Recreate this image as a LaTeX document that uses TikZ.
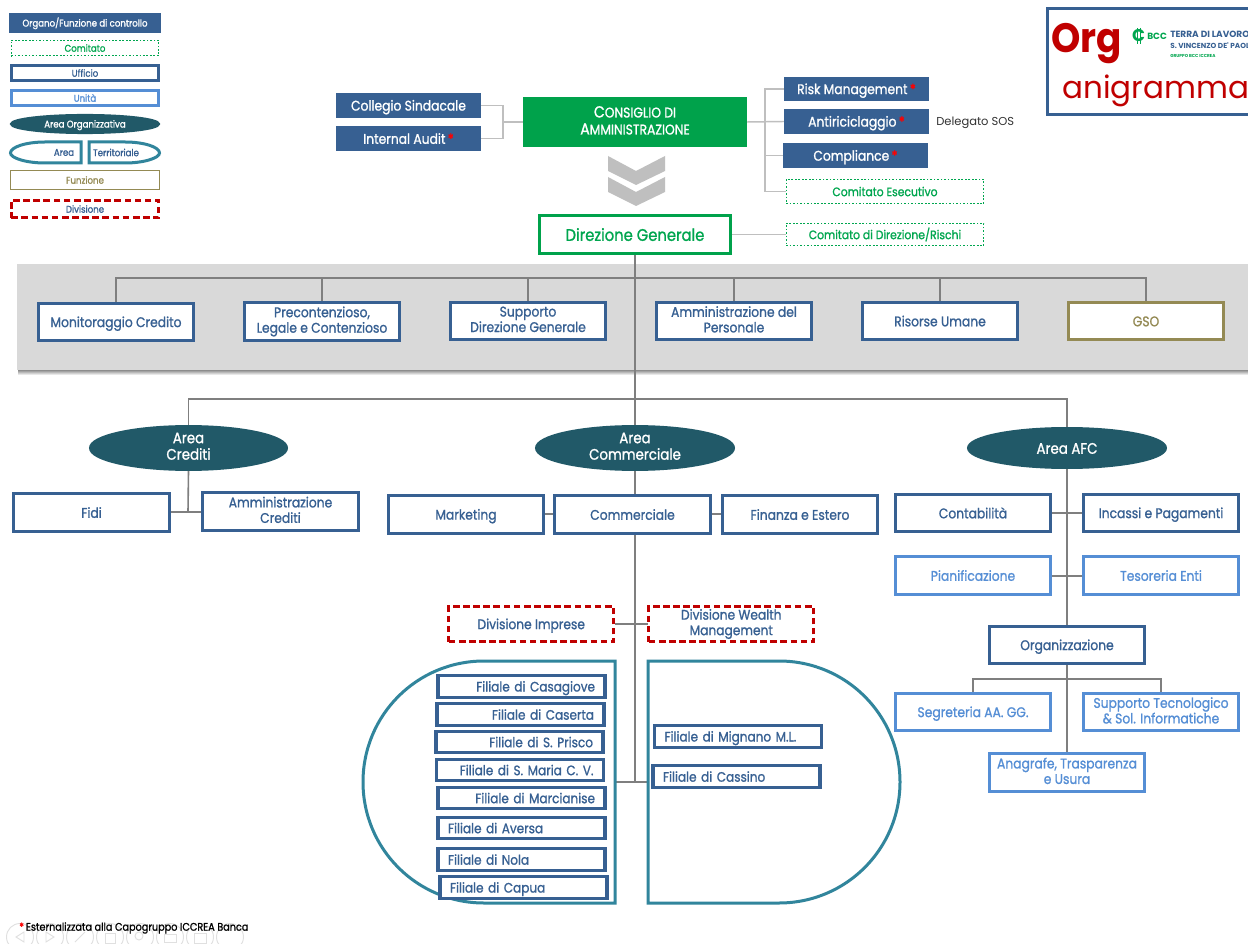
\documentclass[tikz,border=0pt]{standalone}
\usepackage{fontspec}
\usetikzlibrary{shapes.geometric}
\setmainfont{Poppins}[FakeBold=1.1,FakeStretch=0.88]
\newfontfamily\plainfont{Poppins}
\newfontfamily\orgfont{Poppins}[FakeStretch=0.91]
\definecolor{ublue}{HTML}{376092}
\definecolor{lblue}{HTML}{558ED5}
\definecolor{cgreen}{HTML}{00A64F}
\definecolor{bgreen}{HTML}{00A24B}
\definecolor{olive}{HTML}{948A54}
\definecolor{darkred}{HTML}{C00000}
\definecolor{tealfill}{HTML}{215968}
\definecolor{tealline}{HTML}{31859C}
\definecolor{panelgray}{HTML}{D9D9D9}
\definecolor{darkln}{HTML}{7F7F7F}
\definecolor{lightln}{HTML}{BFBFBF}
\pgfdeclarelayer{back}
\pgfdeclarelayer{conn}
\pgfsetlayers{back,conn,main}
\newcommand{\fnt}[2]{\fontsize{\the\dimexpr #1pt*3/4\relax}{\the\dimexpr #2pt*3/4\relax}\selectfont}
\newcommand{\redast}{{\color{red}\,*}}
\newcommand{\capL}[1]{{\fnt{16}{17}#1}}
\newcommand{\bx}[7]{%
  \pgfmathsetmacro{\bxw}{(#5-#3-2.5)*0.75}%
  \pgfmathsetmacro{\bxh}{(#6-#4-2.5)*0.75}%
  \pgfmathsetmacro{\bxx}{(#3+#5)/2}%
  \pgfmathsetmacro{\bxy}{(#4+#6)/2}%
  \node[inner sep=0pt,#1,minimum width=\bxw pt,minimum height=\bxh pt] (#2) at (\bxx,\bxy) {#7};}
\tikzset{
  evenstrut/.style={execute at begin node={\rule{0pt}{1.0em}},execute at end node={\rule[-0.24em]{0pt}{0.24em}}},
  twol/.style={execute at begin node={\rule{0pt}{1.28em}}},
  basebox/.style={rectangle,align=center,font=\fnt{14}{15.5},fill=white,evenstrut},
  ufficio/.style={basebox,draw=ublue,line width=2.4pt,text=ublue},
  unita/.style={basebox,draw=lblue,line width=2.4pt,text=lblue},
  funzione/.style={basebox,draw=olive,line width=2.4pt,text=olive},
  filled/.style={basebox,fill=ublue,draw=ublue,line width=1.875pt,text=white},
  consiglio/.style={basebox,fill=bgreen,draw=bgreen,line width=1.875pt,text=white,font=\fnt{14}{17}},
  direzione/.style={basebox,draw=bgreen,line width=2.4pt,text=cgreen,font=\fnt{16.8}{18}},
  comitato/.style={basebox,draw=cgreen,line width=1.05pt,dash pattern=on 1.3pt off 1.3pt,text=cgreen,font=\fnt{12.3}{13}},
  divisione/.style={basebox,draw=darkred,line width=2.4pt,dash pattern=on 5pt off 2.6pt,text=ublue,font=\fnt{13.9}{15.5}},
  areaell/.style={ellipse,fill=tealfill,draw=tealfill,line width=1.875pt,text=white,align=center,font=\fnt{15.2}{16.5},evenstrut},
  filr/.style={ufficio,align=right,text width=110.25pt,inner xsep=7.5pt,font=\fnt{13.7}{15}},
  fils/.style={ufficio,align=left,text width=110.25pt,inner xsep=7.5pt,font=\fnt{13.7}{15}},
  dk/.style={draw=darkln,line width=1.2pt},
  lt/.style={draw=lightln,line width=1.1pt},
  terr/.style={draw=tealline,line width=2.25pt,fill=white},
  lgd/.style={font=\fnt{9.8}{11}},
  chev/.style={fill=lightln},
  tbar/.style={draw=black!12,line width=0.7pt},
  logotxt/.style={inner sep=0pt,anchor=west},
}
\begin{document}
\begin{tikzpicture}[x=0.75pt,y=-0.75pt]
\useasboundingbox (0,0) rectangle (1248,944);
\begin{pgfonlayer}{back}
\fill[white] (0,0) rectangle (1248,944);
\shade[top color=black!45,bottom color=white] (18,370) rectangle (1248,375);
\fill[panelgray] (17,264) rectangle (1248,370);
\end{pgfonlayer}

\coordinate (rowbar) at (635,278);
\coordinate (areabar) at (635,399);
\coordinate (trunkend) at (635,782);
\coordinate (tL) at (615,782);
\coordinate (tR) at (648,782);
\coordinate (divL) at (615,624);
\coordinate (divR) at (648,624);
\coordinate (colbar) at (503,122);
\coordinate (consbar) at (765,122);
\coordinate (orgbar) at (1067,679);
\coordinate (crbar) at (188,512);
\coordinate (cmbar) at (635,514);
\coordinate (afbar) at (1067,513);
\coordinate (pibar) at (1067,576);

% top level
\bx{consiglio,twol}{cda}{523}{97}{747}{147}{\capL{C}ONSIGLIO DI\\\capL{A}MMINISTRAZIONE}
\bx{filled}{coll}{336}{93}{481}{118}{Collegio Sindacale}
\bx{filled}{audit}{336}{126}{481}{151}{Internal Audit\redast}
\bx{filled}{risk}{784}{77}{929}{101}{Risk Management\redast}
\bx{filled}{anti}{784}{109}{929}{134}{Antiriciclaggio\redast}
\bx{filled}{comp}{783}{143}{928}{168}{Compliance\redast}
\bx{comitato}{cesec}{785}{178}{985}{205}{Comitato Esecutivo}
\bx{direzione}{dg}{538}{214}{732}{255}{Direzione Generale}
\bx{comitato}{cdir}{785}{222}{985}{247}{Comitato di Direzione/Rischi}
\node[inner sep=0pt,anchor=west,font=\plainfont\fnt{11.5}{13},text=black!80] (sos) at (936,123) {Delegato SOS};

% chevrons
\fill[chev] (608,156) -- (636,171) -- (665,156) -- (665,171) -- (636,185) -- (608,171) -- cycle;
\fill[chev] (608,177) -- (636,192) -- (665,177) -- (665,192) -- (636,206) -- (608,192) -- cycle;

% staff row
\bx{ufficio}{mon}{37}{302}{195}{342}{Monitoraggio Credito}
\bx{ufficio,twol}{prec}{243}{301}{401}{342}{Precontenzioso,\\Legale e Contenzioso}
\bx{ufficio,twol}{supp}{449}{301}{607}{341}{Supporto\\Direzione Generale}
\bx{ufficio,twol}{ammp}{655}{301}{813}{341}{Amministrazione del\\Personale}
\bx{ufficio}{ris}{861}{301}{1019}{341}{Risorse Umane}
\bx{funzione}{gso}{1067}{301}{1225}{341}{GSO}

% areas
\bx{areaell,twol}{acr}{89}{427}{288}{469}{Area\\Crediti}
\bx{areaell,twol}{acm}{535}{427}{735}{469}{Area\\Commerciale}
\bx{areaell}{aaf}{967}{427}{1167}{469}{Area AFC}

\bx{ufficio}{fidi}{12}{492}{171}{533}{Fidi}
\bx{ufficio,twol}{amcr}{201}{491}{360}{532}{Amministrazione\\Crediti}
\bx{ufficio}{mkt}{387}{494}{545}{535}{Marketing}
\bx{ufficio}{comm}{553}{494}{712}{535}{Commerciale}
\bx{ufficio}{fin}{721}{494}{879}{535}{Finanza e Estero}
\bx{ufficio}{cont}{894}{493}{1052}{533}{Contabilità}
\bx{ufficio}{inc}{1082}{493}{1240}{533}{Incassi e Pagamenti}
\bx{unita}{pian}{894}{555}{1052}{596}{Pianificazione}
\bx{unita}{tes}{1082}{555}{1240}{596}{Tesoreria Enti}
\bx{ufficio}{org}{988}{625}{1146}{665}{Organizzazione}
\bx{unita}{seg}{894}{692}{1052}{732}{Segreteria AA. GG.}
\bx{unita,twol}{stec}{1082}{692}{1240}{732}{Supporto Tecnologico\\\& Sol. Informatiche}
\bx{unita,twol}{anag}{988}{752}{1146}{793}{Anagrafe, Trasparenza\\e Usura}

% divisions
\bx{divisione}{dimp}{447.5}{605}{615}{643}{Divisione Imprese}
\bx{divisione,twol}{dwm}{647.5}{605}{815}{643}{Divisione Wealth\\Management}

% territories
\draw[terr] (484,661) .. controls (417,661) and (363,715) .. (363,782) .. controls (363,849) and (417,903) .. (484,903) -- (615,903) -- (615,661) -- cycle;
\draw[terr] (648,661) -- (779,661) .. controls (846,661) and (900,715) .. (900,782) .. controls (900,849) and (846,903) .. (779,903) -- (648,903) -- cycle;

% branches
\bx{filr}{f1}{438}{674}{605}{699}{Filiale di Casagiove}
\bx{filr}{f2}{437}{702}{604}{727}{Filiale di Caserta}
\bx{filr}{f3}{436}{730}{603}{754}{Filiale di S. Prisco}
\bx{filr}{f4}{436}{758}{604}{782}{Filiale di S. Maria C. V.}
\bx{filr}{f5}{438}{786}{605}{810}{Filiale di Marcianise}
\bx{fils}{f6}{438}{816}{605}{840}{Filiale di Aversa}
\bx{fils}{f7}{438}{847}{605}{872}{Filiale di Nola}
\bx{fils}{f8}{440}{875}{607}{900}{Filiale di Capua}
\bx{fils}{f9}{655}{724}{821}{749}{Filiale di Mignano M.L.}
\bx{fils}{f10}{653}{764}{820}{789}{Filiale di Cassino}

% legend
\bx{filled,lgd}{l1}{9}{13}{161}{33}{Organo/Funzione di controllo}
\bx{comitato,lgd}{l2}{10}{39}{160}{57}{Comitato}
\bx{ufficio,lgd}{l3}{10}{64}{160}{82}{Ufficio}
\bx{unita,lgd}{l4}{10}{89}{160}{107}{Unità}
\bx{areaell,lgd}{l5}{10}{114}{160}{134}{Area Organizzativa}
\draw[terr] (81,142) -- (45,142) .. controls (26,142) and (10.5,147) .. (10.5,153) .. controls (10.5,158) and (26,163) .. (45,163) -- (81,163) -- cycle;
\draw[terr] (89,142) -- (125,142) .. controls (144,142) and (159.5,147) .. (159.5,153) .. controls (159.5,158) and (144,163) .. (125,163) -- (89,163) -- cycle;
\node[inner sep=0pt,lgd,text=ublue] (l6) at (64,152.5) {Area};
\node[inner sep=0pt,lgd,text=ublue] (l7) at (116,152.5) {Territoriale};
\bx{funzione,line width=1.1pt,lgd}{l8}{9}{169}{161}{191}{Funzione}
\bx{divisione,lgd}{l9}{10}{199}{160}{219}{Divisione}

% logo
\draw[draw=ublue,line width=2.25pt,fill=white] (1047.5,8.5) rectangle (1260,114.5);
\node[inner sep=0pt,anchor=base west,text=darkred,font=\orgfont\bfseries\fnt{41}{41}] (lorg) at (1051,53) {Org};
\node[inner sep=0pt,anchor=base west,text=darkred,font=\plainfont\fnt{31}{34}] (lani) at (1062,99) {anigramma};
\node[logotxt,anchor=center,text=cgreen,font=\plainfont\bfseries\fnt{17}{17}] (lc) at (1138.5,36) {C};
\draw[cgreen,line width=0.7pt] (1137,28) -- (1137,44) (1140,28) -- (1140,44);
\node[logotxt,text=cgreen,font=\plainfont\bfseries\fnt{9}{10}] (lbcc) at (1147,36) {BCC};
\node[logotxt,text=ublue,font=\plainfont\bfseries\fnt{9}{10}] (lt1) at (1170,34.5) {TERRA DI LAVORO};
\node[logotxt,text=ublue,font=\plainfont\bfseries\fnt{7.3}{9}] (lt2) at (1170,45.5) {S. VINCENZO DE' PAOLI};
\node[logotxt,text=cgreen,font=\plainfont\bfseries\fnt{4.3}{5}] (lt3) at (1170,56) {GRUPPO BCC ICCREA};

% footer
\begin{pgfonlayer}{back}
\foreach \cx in {20,50,80,110,140,170,200,230} \draw[tbar] (\cx,937) circle[radius=13.5];
\draw[tbar] (24,932) -- (16,937) -- (24,942) -- cycle;
\draw[tbar] (46,932) -- (54,937) -- (46,942) -- cycle;
\draw[tbar] (75,942) -- (85,932);
\draw[tbar] (105,933) rectangle (115,943);
\draw[tbar] (139,936) circle[radius=4];
\draw[tbar] (164,934) rectangle (176,942);
\draw[tbar] (194,933) rectangle (206,943);
\end{pgfonlayer}
\node[inner sep=0pt,anchor=west,text=black,font=\fnt{11}{12}] (foot) at (19,928) {{\color{red}*}\hspace{1.5pt}Esternalizzata alla Capogruppo ICCREA Banca};

% connectors, behind all boxes
\begin{pgfonlayer}{conn}
\draw[lt] (coll.east) -| (colbar) |- (audit.east);
\draw[lt] (colbar) -- (cda.west);
\draw[lt] (cda.east) -- (anti.west);
\draw[lt] (risk.west) -| (consbar);
\draw[lt] (consbar) |- (cesec.west);
\draw[lt] (consbar) |- (comp.west);
\draw[lt] (dg.east) -- (cdir.west);
\draw[dk] (dg.south) -- (trunkend);
\draw[dk] (mon.north) -- (mon.north |- rowbar) -- (gso.north |- rowbar) -- (gso.north);
\draw[dk] (prec.north) -- (prec.north |- rowbar);
\draw[dk] (supp.north) -- (supp.north |- rowbar);
\draw[dk] (ammp.north) -- (ammp.north |- rowbar);
\draw[dk] (ris.north) -- (ris.north |- rowbar);
\draw[dk] (acr.north) -- (acr.north |- areabar) -- (aaf.north |- areabar) -- (aaf.north);
\draw[dk] (acr.south) -- (crbar);
\draw[dk] (fidi.east |- crbar) -- (amcr.west |- crbar);
\draw[dk] (mkt.east |- cmbar) -- (comm.west |- cmbar);
\draw[dk] (comm.east |- cmbar) -- (fin.west |- cmbar);
\draw[dk] (aaf.south) -- (org.north);
\draw[dk] (cont.east |- afbar) -- (inc.west |- afbar);
\draw[dk] (pian.east |- pibar) -- (tes.west |- pibar);
\draw[dk] (org.south) -- (anag.north);
\draw[dk] (seg.north) -- (seg.north |- orgbar) -- (stec.north |- orgbar) -- (stec.north);
\draw[dk] (divL) -- (divR);
\draw[dk] (tL) -- (tR);
\end{pgfonlayer}
\end{tikzpicture}
\end{document}
